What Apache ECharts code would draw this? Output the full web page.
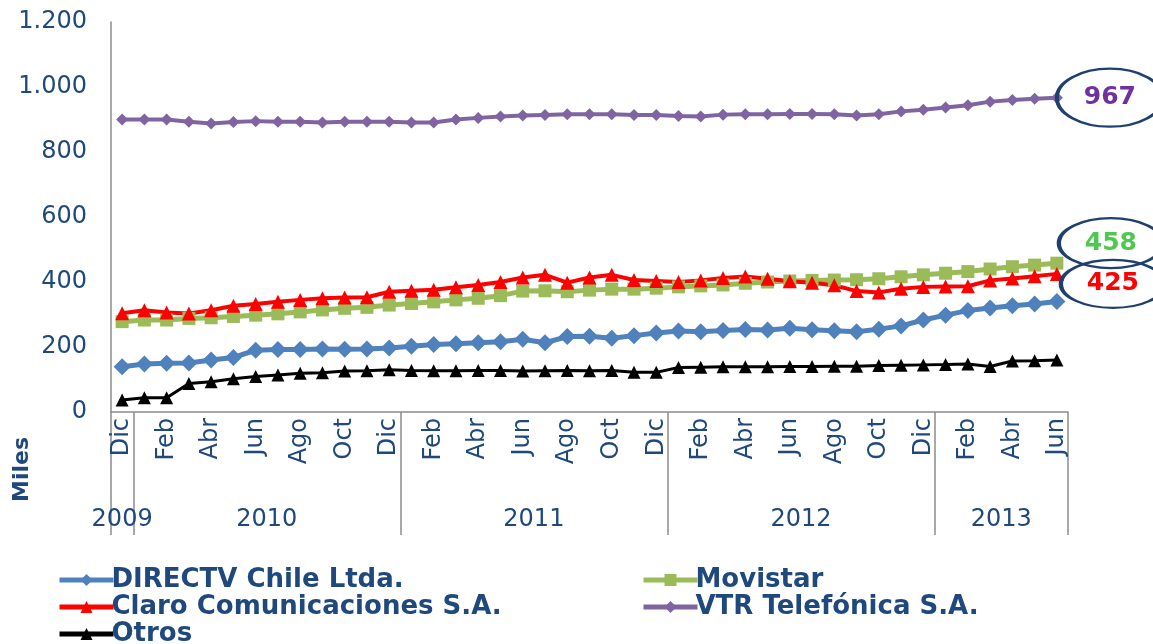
<!DOCTYPE html>
<html>
<head>
<meta charset="utf-8">
<script src="https://cdn.jsdelivr.net/npm/echarts@6/dist/echarts.min.js"></script>
<style>
  html, body { margin: 0; padding: 0; background: #fff; }
  #main { width: 1153px; height: 644px; }
</style>
</head>
<body>
<div id="main"></div>
<script>
// meses, dic 2009 .. jun 2013
var months = ['Dic',
  'Ene', 'Feb', 'Mar', 'Abr', 'May', 'Jun', 'Jul', 'Ago', 'Sep', 'Oct', 'Nov', 'Dic',
  'Ene', 'Feb', 'Mar', 'Abr', 'May', 'Jun', 'Jul', 'Ago', 'Sep', 'Oct', 'Nov', 'Dic',
  'Ene', 'Feb', 'Mar', 'Abr', 'May', 'Jun', 'Jul', 'Ago', 'Sep', 'Oct', 'Nov', 'Dic',
  'Ene', 'Feb', 'Mar', 'Abr', 'May', 'Jun'];
var yearNames = ['2009', '2010', '2011', '2012', '2013'];
var yearFirst = [0, 1, 13, 25, 37]; // indice del primer mes de cada año

// suscriptores, miles
var directv = [139, 148, 150, 151, 160, 168, 190, 192, 192, 194, 193, 194, 197, 202, 208, 210, 213, 216, 224, 213,
  232, 233, 227, 235, 243, 249, 247, 251, 254, 252, 258, 253, 250, 247, 255, 265, 283, 298, 312, 320, 327, 332, 340];
var movistar = [278, 283, 283, 288, 290, 294, 298, 302, 308, 314, 319, 322, 329, 334, 339, 345, 350, 358, 372, 373,
  370, 375, 378, 378, 381, 385, 388, 391, 396, 400, 403, 405, 406, 407, 410, 416, 422, 427, 432, 440, 447, 452, 458];
var claro = [304, 313, 306, 303, 313, 327, 332, 339, 345, 350, 352, 353, 370, 373, 376, 384, 391, 400, 414, 422,
  398, 414, 422, 406, 403, 400, 405, 412, 417, 410, 402, 398, 390, 372, 368, 379, 385, 386, 387, 405, 411, 418, 425];
var vtr = [900, 900, 900, 893, 888, 892, 895, 893, 893, 891, 893, 893, 893, 891, 891, 900, 905, 909, 912, 914,
  916, 916, 916, 914, 914, 911, 909, 915, 916, 916, 917, 917, 916, 912, 916, 925, 930, 937, 944, 955, 960, 964, 967];
var otros = [37, 44, 44, 88, 93, 102, 109, 114, 119, 121, 126, 127, 130, 128, 127, 127, 128, 128, 126, 127,
  128, 127, 128, 122, 122, 137, 138, 139, 139, 139, 140, 140, 141, 141, 143, 144, 145, 146, 148, 140, 157, 158, 160];

var navy = '#1F497D';
var axisGray = '#8C8C8C';
var font = 'DejaVu Sans';

var myChart = echarts.init(document.getElementById('main'));

var gridLeft = 111, gridRight = 85;
var bandW = (1153 - gridLeft - gridRight) / months.length;

// posicion de la etiqueta de cada año (centro del tramo)
var yearLabelAt = {};
yearFirst.forEach(function (a, k) {
  var b = k < yearFirst.length - 1 ? yearFirst[k + 1] - 1 : months.length - 1;
  var mid = (a + b) / 2;
  yearLabelAt[Math.floor(mid)] = { name: yearNames[k], half: mid % 1 !== 0 };
});

function fmtMiles(v) {
  if (v >= 1000) {
    return Math.floor(v / 1000) + '.' + String(v % 1000).padStart(3, '0');
  }
  return String(v);
}

function lastMark(data, color, size, offset) {
  var i = data.length - 1;
  return {
    silent: true,
    symbol: 'circle',
    symbolSize: size,
    symbolOffset: offset,
    itemStyle: { color: 'rgba(255,255,255,0)', borderColor: '#1F3F6F', borderWidth: 3 },
    label: {
      show: true, position: 'inside', formatter: '{c}',
      color: color, fontSize: 25, fontWeight: 'bold', fontFamily: font
    },
    data: [{ coord: [i, data[i]], value: data[i] }]
  };
}

// una leyenda por entrada, dos columnas
function legendItem(name, left, top) {
  return {
    left: left, top: top,
    itemWidth: 54, itemHeight: 15, itemGap: 0,
    lineStyle: { width: 5 },
    textStyle: { color: navy, fontSize: 26, fontWeight: 'bold', fontFamily: font, padding: [0, 0, 0, -7] },
    data: [name]
  };
}

var option = {
  backgroundColor: '#ffffff',
  animation: false,
  grid: { left: gridLeft, right: gridRight, top: 22, bottom: 232 },
  legend: [
    legendItem('DIRECTV Chile Ltda.', 52, 562),
    legendItem('Movistar', 636, 562),
    legendItem('Claro Comunicaciones S.A.', 52, 589),
    legendItem('VTR Telefónica S.A.', 636, 589),
    legendItem('Otros', 52, 616)
  ],
  graphic: [{
    type: 'text', x: 22, y: 502, rotation: Math.PI / 2,
    style: { text: 'Miles', fill: navy, font: 'bold 22px "DejaVu Sans"', align: 'left', verticalAlign: 'middle' }
  }],
  xAxis: [{
    type: 'category',
    data: months,
    boundaryGap: true,
    axisLine: { lineStyle: { color: axisGray, width: 1.5 } },
    axisTick: {
      show: true, length: 123,
      interval: function (i) { return yearFirst.indexOf(i) >= 0; },
      lineStyle: { color: axisGray, width: 1.5 }
    },
    axisLabel: {
      interval: 1, rotate: 90, margin: 6,
      color: navy, fontSize: 24, fontFamily: font
    }
  }, {
    type: 'category',
    data: months,
    position: 'bottom',
    boundaryGap: true,
    axisLine: { show: false },
    axisTick: { show: false },
    axisLabel: {
      margin: 96,
      color: navy, fontSize: 24, fontFamily: font,
      interval: function (i) { return yearLabelAt[i] !== undefined; },
      formatter: function (v, i) {
        var y = yearLabelAt[i];
        if (!y) return '';
        return y.half ? '{h|' + y.name + '}' : y.name;
      },
      rich: { h: { padding: [0, 0, 0, bandW], color: navy, fontSize: 24, fontFamily: font } }
    }
  }],
  yAxis: {
    type: 'value',
    min: 0, max: 1200, interval: 200,
    axisLine: { show: true, lineStyle: { color: axisGray, width: 1.5 } },
    axisTick: { show: false },
    splitLine: { show: false },
    axisLabel: { color: navy, fontSize: 24, fontFamily: font, margin: 24, formatter: fmtMiles }
  },
  series: [{
    name: 'DIRECTV Chile Ltda.', type: 'line', data: directv,
    symbol: 'diamond', symbolSize: 17, showAllSymbol: true,
    lineStyle: { color: '#4F81BD', width: 5 },
    itemStyle: { color: '#4F81BD' }
  }, {
    name: 'Movistar', type: 'line', data: movistar,
    symbol: 'rect', symbolSize: 13, showAllSymbol: true,
    lineStyle: { color: '#9BBB59', width: 5 },
    itemStyle: { color: '#9BBB59' },
    markPoint: lastMark(movistar, '#4FC84F', [104, 50], [54, -20])
  }, {
    name: 'Claro Comunicaciones S.A.', type: 'line', data: claro,
    symbol: 'triangle', symbolSize: 14, showAllSymbol: true,
    lineStyle: { color: '#FF0000', width: 4 },
    itemStyle: { color: '#FF0000' },
    markPoint: lastMark(claro, '#FF0000', [104, 48], [56, 10])
  }, {
    name: 'VTR Telefónica S.A.', type: 'line', data: vtr,
    symbol: 'diamond', symbolSize: 12, showAllSymbol: true,
    lineStyle: { color: '#8064A2', width: 4 },
    itemStyle: { color: '#8064A2' },
    markPoint: lastMark(vtr, '#7030A0', [106, 58], [53, 0])
  }, {
    name: 'Otros', type: 'line', data: otros,
    symbol: 'triangle', symbolSize: 13, showAllSymbol: true,
    lineStyle: { color: '#000000', width: 3 },
    itemStyle: { color: '#000000' }
  }]
};

myChart.setOption(option);
</script>
</body>
</html>
